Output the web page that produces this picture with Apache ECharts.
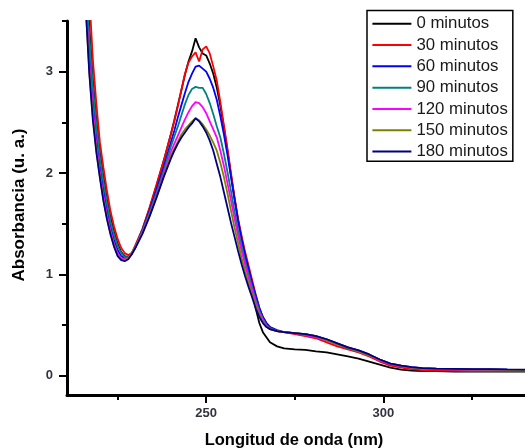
<!DOCTYPE html>
<html><head><meta charset="utf-8">
<script src="https://cdn.jsdelivr.net/npm/echarts@6/dist/echarts.min.js"></script>
<style>html,body{margin:0;padding:0;background:#fff}#c{width:525px;height:448px}</style>
</head><body><div id="c"></div>
<script>
// Wavelength (nm) sampling points
const wavelengths = [213,215,216,217,218,219,220,221,222,223,224,225,226,227,228,229,230,
  232,234,236,238,
  240,241,242,243,244,245,246,
  247,248,249,250,251,252,
  253,254,255,256,257,258,259,260,261,262,263,264,265,266,267,268,
  270,272,275,278,281,284,287,290,293,296,299,302,305,308,311,315,320,325,330,335,340];

const abs0 = [5.0,4.4,3.98,3.45,2.92,2.52,2.20,1.96,1.74,1.56,1.42,1.30,1.22,1.18,1.17,1.20,1.27,
  1.44,1.65,1.88,2.12,
  2.38,2.52,2.67,2.82,2.97,3.10,3.20,
  3.33,3.24,3.18,3.16,3.08,2.98,
  2.84,2.66,2.45,2.22,1.98,1.75,1.53,1.35,1.18,1.02,0.85,0.66,0.52,0.43,0.38,0.33,
  0.29,0.27,0.26,0.255,0.24,0.23,0.21,0.19,0.17,0.14,0.11,0.08,0.06,0.05,0.045,0.045,0.042,0.04,0.04,0.04,0.04];

const abs30 = [5.2,4.6,4.2,3.75,3.12,2.68,2.30,2.05,1.82,1.62,1.47,1.35,1.26,1.21,1.19,1.21,1.29,
  1.45,1.66,1.89,2.12,
  2.38,2.51,2.66,2.82,2.98,3.09,3.15,
  3.19,3.10,3.22,3.25,3.18,3.05,
  2.91,2.70,2.47,2.24,2.00,1.76,1.55,1.38,1.22,1.08,0.94,0.80,0.67,0.58,0.52,0.48,
  0.44,0.43,0.41,0.39,0.37,0.33,0.29,0.26,0.23,0.19,0.14,0.10,0.08,0.065,0.055,0.05,0.048,0.046,0.045,0.045,0.045];

const abs60 = [4.8,4.2,3.78,3.2,2.72,2.36,2.07,1.84,1.64,1.47,1.34,1.24,1.18,1.16,1.17,1.21,1.27,
  1.44,1.63,1.84,2.06,
  2.30,2.42,2.55,2.67,2.79,2.90,2.98,
  3.05,3.06,3.03,3.00,2.93,2.84,
  2.72,2.56,2.38,2.18,1.96,1.74,1.53,1.35,1.19,1.05,0.91,0.79,0.67,0.58,0.52,0.48,
  0.45,0.43,0.42,0.41,0.39,0.36,0.32,0.28,0.25,0.21,0.16,0.12,0.10,0.085,0.075,0.07,0.068,0.065,0.063,0.06,0.058];

const abs90 = [4.9,4.3,3.9,3.35,2.85,2.46,2.15,1.91,1.70,1.52,1.39,1.28,1.21,1.17,1.17,1.21,1.27,
  1.43,1.61,1.81,2.02,
  2.26,2.36,2.46,2.57,2.68,2.77,2.83,
  2.85,2.84,2.84,2.78,2.69,2.58,
  2.46,2.35,2.19,2.01,1.82,1.62,1.44,1.28,1.13,1.00,0.87,0.75,0.64,0.56,0.50,0.47,
  0.44,0.43,0.42,0.40,0.38,0.35,0.31,0.27,0.24,0.20,0.15,0.115,0.095,0.08,0.07,0.065,0.063,0.06,0.06,0.058,0.056];

const abs120 = [4.7,4.1,3.7,3.08,2.62,2.27,2.00,1.77,1.58,1.43,1.30,1.21,1.16,1.15,1.16,1.21,1.27,
  1.42,1.59,1.78,1.99,
  2.21,2.29,2.37,2.45,2.53,2.60,2.66,
  2.70,2.69,2.65,2.59,2.51,2.43,
  2.35,2.22,2.07,1.90,1.73,1.55,1.38,1.23,1.09,0.96,0.84,0.72,0.62,0.55,0.49,0.46,
  0.44,0.43,0.42,0.40,0.38,0.35,0.31,0.28,0.24,0.20,0.15,0.115,0.095,0.08,0.07,0.065,0.063,0.06,0.06,0.058,0.056];

const abs150 = [4.6,4.0,3.64,3.0,2.55,2.22,1.96,1.73,1.55,1.40,1.28,1.19,1.15,1.14,1.16,1.21,1.27,
  1.41,1.58,1.77,1.97,
  2.17,2.24,2.31,2.38,2.43,2.47,2.51,
  2.54,2.52,2.48,2.43,2.37,2.30,
  2.22,2.10,1.96,1.80,1.63,1.46,1.31,1.16,1.03,0.91,0.80,0.69,0.60,0.53,0.49,0.46,
  0.44,0.43,0.42,0.41,0.39,0.35,0.31,0.28,0.24,0.20,0.16,0.12,0.10,0.08,0.072,0.068,0.065,0.062,0.06,0.058,0.056];

const abs180 = [4.6,4.0,3.62,2.98,2.52,2.20,1.95,1.72,1.54,1.39,1.27,1.18,1.14,1.13,1.15,1.20,1.26,
  1.40,1.57,1.76,1.96,
  2.14,2.22,2.29,2.35,2.40,2.45,2.49,
  2.54,2.51,2.46,2.40,2.32,2.22,
  2.09,1.96,1.81,1.66,1.51,1.37,1.23,1.10,0.98,0.87,0.77,0.66,0.58,0.52,0.48,0.46,
  0.44,0.43,0.42,0.41,0.39,0.36,0.32,0.28,0.25,0.21,0.16,0.12,0.10,0.085,0.075,0.07,0.068,0.065,0.065,0.062,0.06];

const seriesNames = ['0 minutos','30 minutos','60 minutos','90 minutos','120 minutos','150 minutos','180 minutos'];
const seriesColors = ['#000000','#ff0000','#0000ff','#008080','#ff00ff','#808000','#000080'];
const seriesValues = [abs0, abs30, abs60, abs90, abs120, abs150, abs180];

const xMajorTicks = [250, 300];
const xMinorTicks = [225, 275, 325];
const yMajorTicks = [0, 1, 2, 3];
const yMinorTicks = [0.5, 1.5, 2.5, 3.5];

const FONT = '"Liberation Sans", Arial, sans-serif';
const chart = echarts.init(document.getElementById('c'), null, {renderer: 'canvas'});

const xBase = {type: 'value', min: 210.7, max: 340, splitLine: {show: false}};
const yBase = {type: 'value', min: -0.19, max: 3.5, splitLine: {show: false}};

chart.setOption({
  animation: false,
  backgroundColor: '#ffffff',
  grid: {left: 67, right: -1, top: 21, bottom: 53, containLabel: false},
  xAxis: [
    Object.assign({}, xBase, {
      position: 'bottom',
      axisLine: {show: true, onZero: false, lineStyle: {color: '#000', width: 3}},
      axisTick: {show: true, customValues: xMajorTicks, length: 8, lineStyle: {color: '#000', width: 2}},
      axisLabel: {show: true, customValues: xMajorTicks, margin: 12, fontSize: 13, fontWeight: 'bold', color: '#333340', fontFamily: FONT}
    }),
    Object.assign({}, xBase, {
      position: 'bottom',
      axisLine: {show: false, onZero: false},
      axisTick: {show: true, customValues: xMinorTicks, length: 5, lineStyle: {color: '#000', width: 2}},
      axisLabel: {show: false}
    })
  ],
  yAxis: [
    Object.assign({}, yBase, {
      position: 'left',
      axisLine: {show: true, onZero: false, lineStyle: {color: '#000', width: 3}},
      axisTick: {show: true, customValues: yMajorTicks, length: 8, lineStyle: {color: '#000', width: 2}},
      axisLabel: {show: true, customValues: yMajorTicks, margin: 14, fontSize: 13, fontWeight: 'bold', color: '#333340', fontFamily: FONT}
    }),
    Object.assign({}, yBase, {
      position: 'left',
      axisLine: {show: false, onZero: false},
      axisTick: {show: true, customValues: yMinorTicks, length: 5, lineStyle: {color: '#000', width: 2}},
      axisLabel: {show: false}
    })
  ],
  legend: {
    orient: 'vertical',
    left: 367, top: 10.5,
    padding: [3.6, 5, 0, 5.4],
    icon: 'rect',
    itemWidth: 39, itemHeight: 2, itemGap: 2,
    borderColor: '#000', borderWidth: 1.5,
    backgroundColor: '#fff',
    textStyle: {fontSize: 16.8, fontFamily: FONT, color: '#1a1a1a', lineHeight: 19.3},
    data: seriesNames
  },
  graphic: [
    {type: 'text', x: 294, y: 440, style: {text: 'Longitud de onda (nm)', font: 'bold 16.5px ' + FONT, fill: '#000', align: 'center', verticalAlign: 'middle'}},
    {type: 'text', x: 19, y: 205, rotation: Math.PI / 2, style: {text: 'Absorbancia (u. a.)', font: 'bold 17px ' + FONT, fill: '#000', align: 'center', verticalAlign: 'middle'}}
  ],
  series: seriesNames.map((name, k) => ({
    name: name,
    type: 'line',
    xAxisIndex: 0, yAxisIndex: 0,
    symbol: 'none',
    clip: true,
    color: seriesColors[k],
    lineStyle: {color: seriesColors[k], width: 1.8},
    data: wavelengths.map((w, i) => [w, seriesValues[k][i]])
  }))
});
</script></body></html>
